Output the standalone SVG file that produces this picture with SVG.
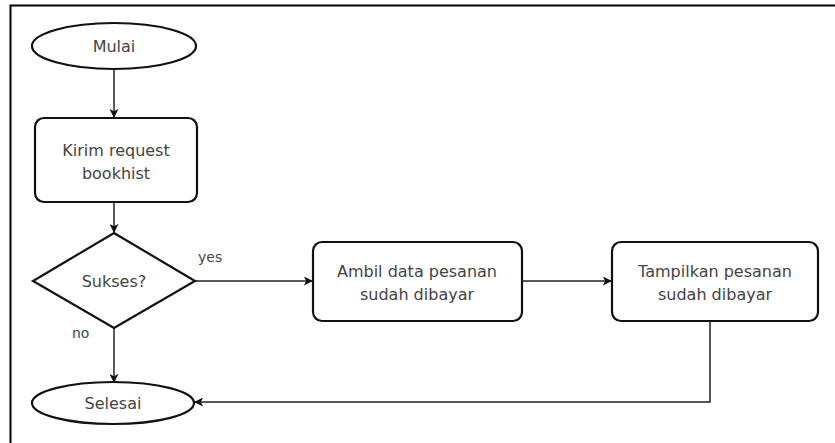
<svg xmlns="http://www.w3.org/2000/svg" width="835" height="443" viewBox="0 0 835 443">
<defs>
<style>
.shape{fill:#fff;stroke:#111;stroke-width:2.2}
.edge{fill:none;stroke:#222;stroke-width:1.5}
.t{font-family:"DejaVu Sans","Liberation Sans",sans-serif;font-size:16px;fill:#444;text-anchor:middle}
.lbl{font-family:"DejaVu Sans","Liberation Sans",sans-serif;font-size:14px;fill:#444}
</style>
<marker id="arr" viewBox="0 0 10 10" refX="9" refY="5" markerWidth="9" markerHeight="9" markerUnits="userSpaceOnUse" orient="auto">
<path d="M0,0 L10,5 L0,10 L2.5,5 Z" fill="#111"/>
</marker>
</defs>
<rect width="835" height="443" fill="#fff"/>
<path d="M10.5,443 V5.5 H835" fill="none" stroke="#000" stroke-width="2"/>
<g id="connectors">
<path class="edge" d="M114,70 V117" marker-end="url(#arr)"/>
<path class="edge" d="M114,202 V232" marker-end="url(#arr)"/>
<path class="edge" d="M114,328 V382" marker-end="url(#arr)"/>
<path class="edge" d="M195,281 H312" marker-end="url(#arr)"/>
<path class="edge" d="M522,281 H611" marker-end="url(#arr)"/>
<path class="edge" d="M710,321 V402 H195" marker-end="url(#arr)"/>
<text class="lbl" x="198" y="262">yes</text>
<text class="lbl" x="72" y="338">no</text>
</g>
<g id="mulai">
<ellipse class="shape" cx="114" cy="46" rx="82" ry="23"/>
<text class="t" x="114" y="52">Mulai</text>
</g>
<g id="kirim">
<rect class="shape" x="35" y="118" width="162" height="84" rx="9"/>
<text class="t" x="116" y="156">Kirim request</text>
<text class="t" x="116" y="179">bookhist</text>
</g>
<g id="sukses">
<polygon class="shape" points="114,233 195,281 114,328 33,281"/>
<text class="t" x="114" y="287">Sukses?</text>
</g>
<g id="ambil">
<rect class="shape" x="313" y="242" width="209" height="79" rx="9"/>
<text class="t" x="417" y="277">Ambil data pesanan</text>
<text class="t" x="417" y="300">sudah dibayar</text>
</g>
<g id="tampilkan">
<rect class="shape" x="612" y="242" width="206" height="79" rx="9"/>
<text class="t" x="715" y="277">Tampilkan pesanan</text>
<text class="t" x="715" y="300">sudah dibayar</text>
</g>
<g id="selesai">
<ellipse class="shape" cx="113" cy="403" rx="81" ry="21"/>
<text class="t" x="113" y="409">Selesai</text>
</g>
</svg>
